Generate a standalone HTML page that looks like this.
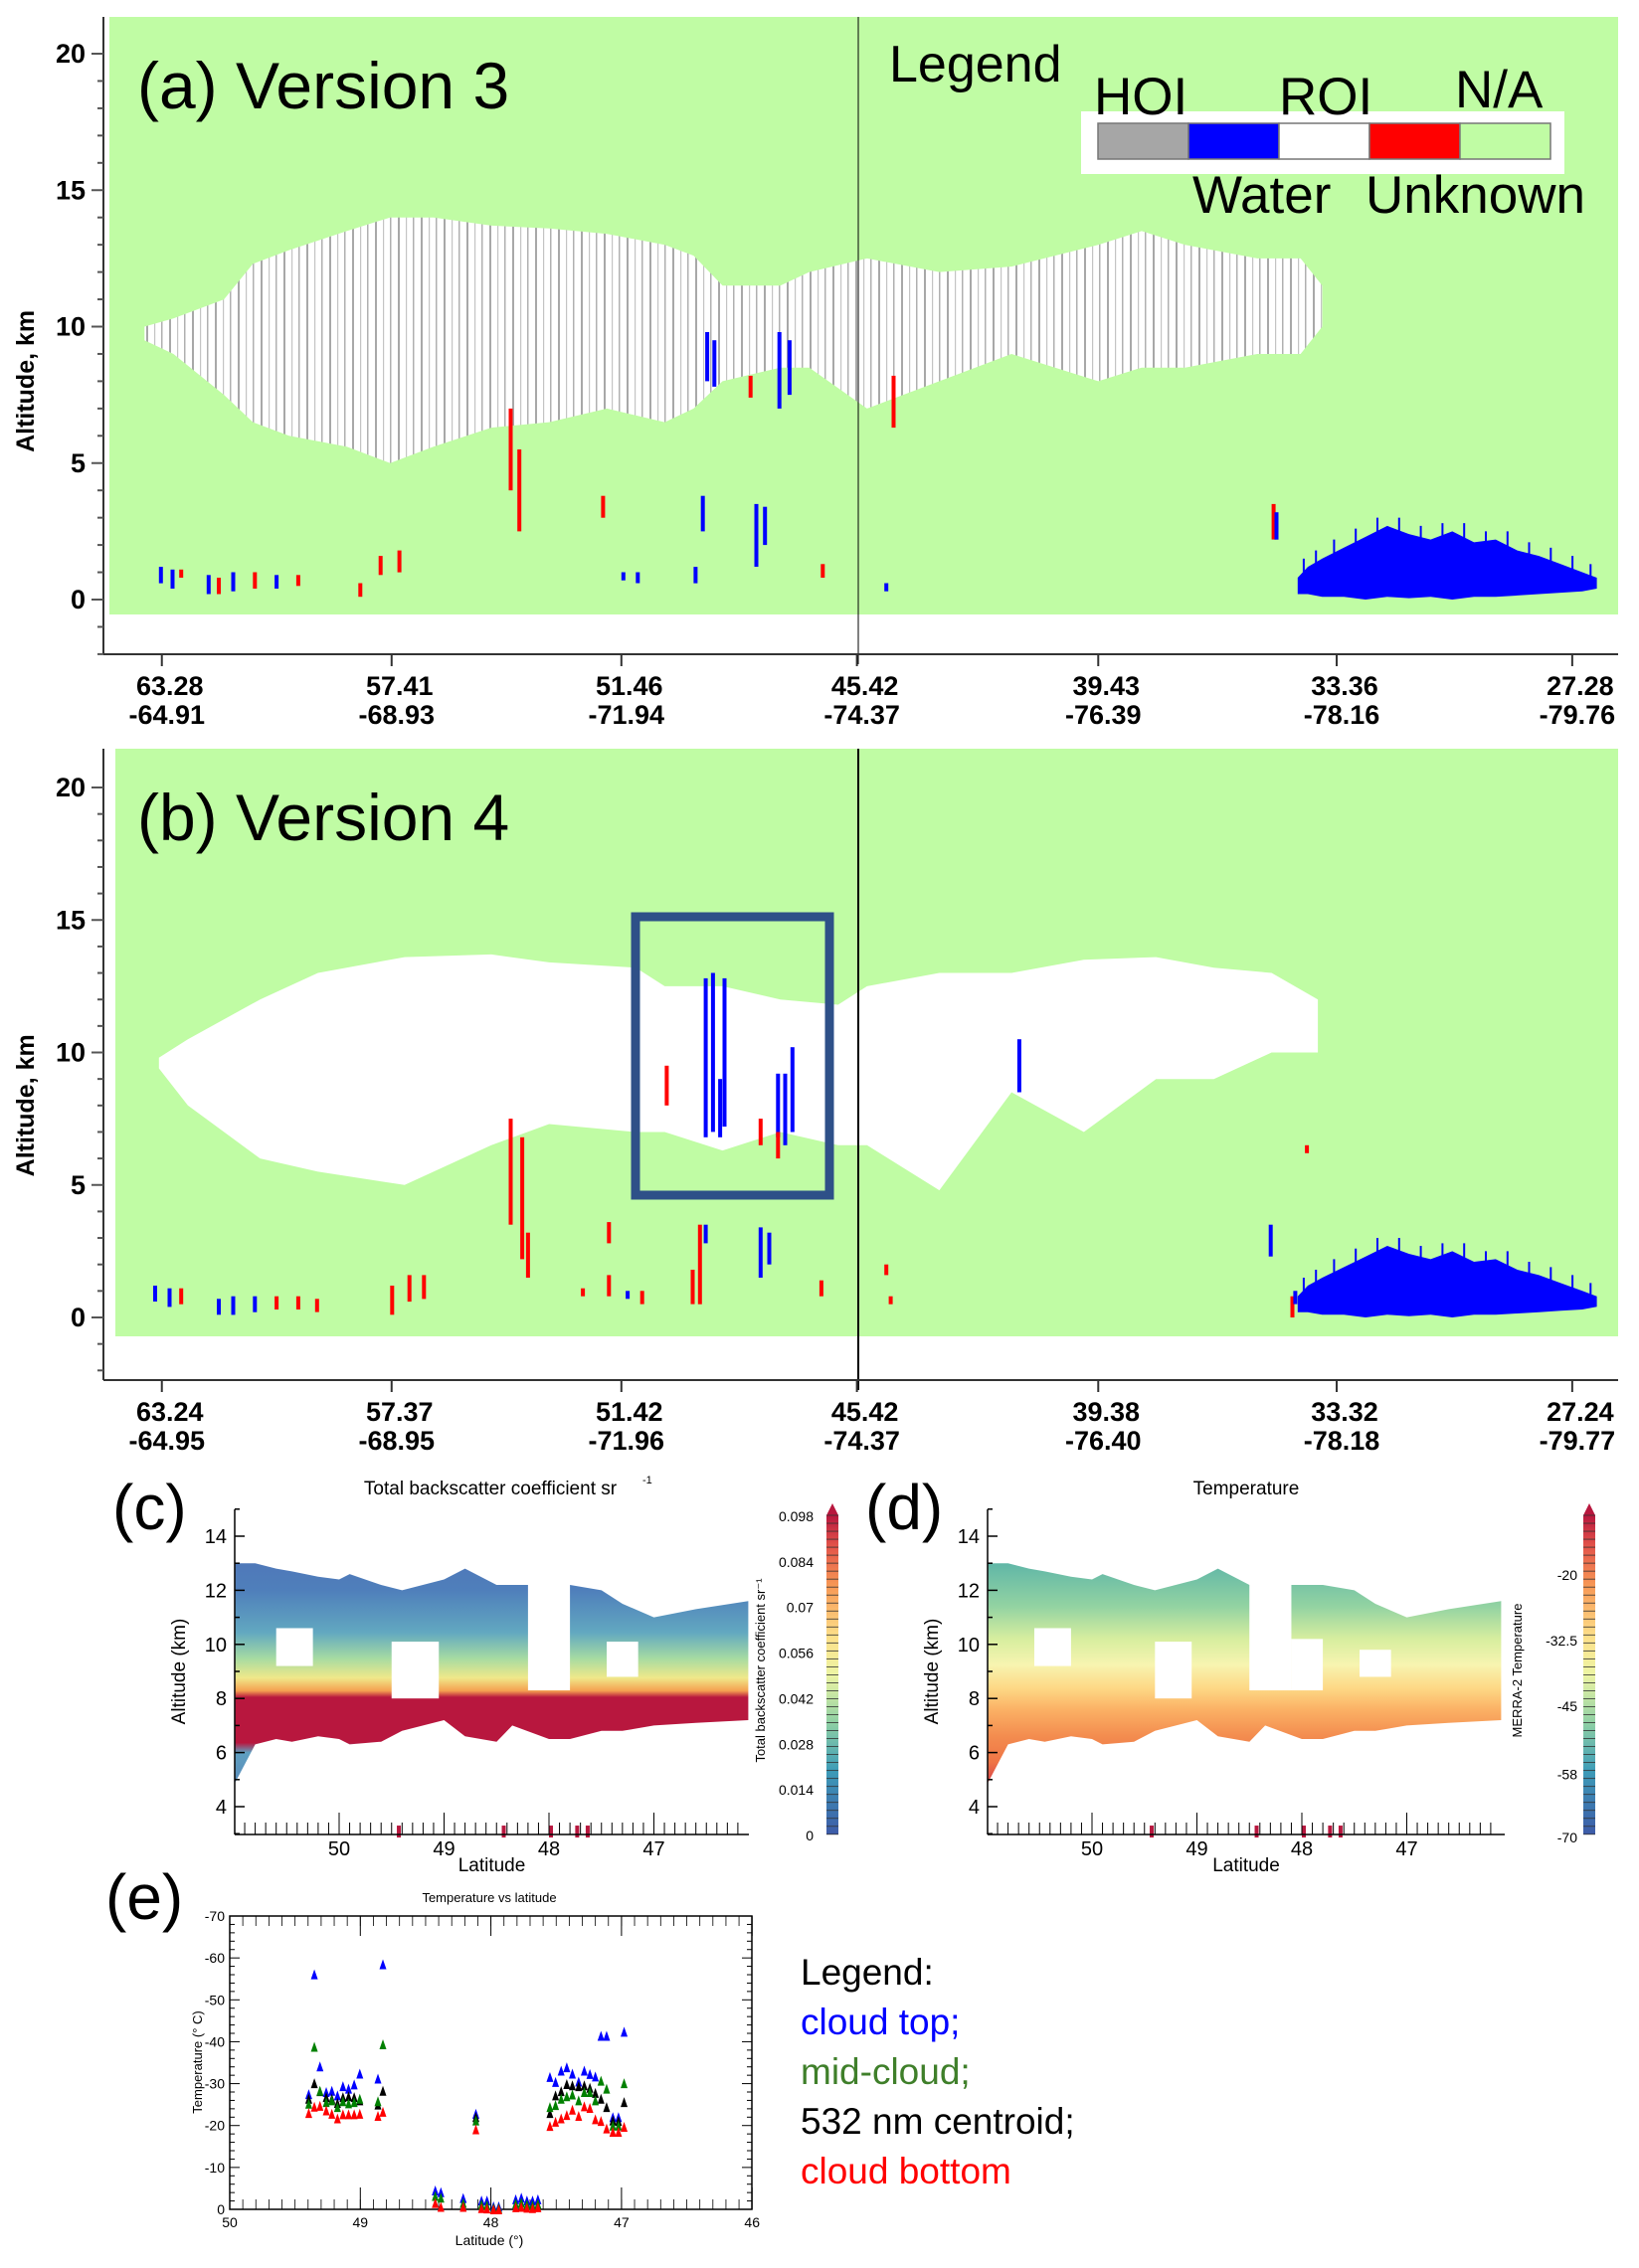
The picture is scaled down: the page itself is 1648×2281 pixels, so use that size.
<!DOCTYPE html>
<html><head><meta charset="utf-8"><style>
html,body{margin:0;padding:0;background:#fff;}
svg{display:block;font-family:"Liberation Sans",sans-serif;}
</style></head><body>
<svg id="fig" width="1648" height="2281" viewBox="0 0 1648 2281" xmlns="http://www.w3.org/2000/svg">
<defs>
<pattern id="hoi" patternUnits="userSpaceOnUse" width="23" height="10">
<rect width="23" height="10" fill="#fff"/>
<rect x="1" width="1.5" height="10" fill="#b0b0b0"/>
<rect x="9" width="2" height="10" fill="#a8a8a8"/>
<rect x="17" width="1.2" height="10" fill="#c4c4c4"/>
</pattern>
<linearGradient id="gc" x1="0" y1="1518" x2="0" y2="1844" gradientUnits="userSpaceOnUse">
<stop offset="0.05" stop-color="#4f6fb6"/><stop offset="0.25" stop-color="#4f7fbb"/>
<stop offset="0.38" stop-color="#62a8c0"/><stop offset="0.46" stop-color="#a6dba2"/>
<stop offset="0.52" stop-color="#f0e88a"/><stop offset="0.56" stop-color="#f4a050"/>
<stop offset="0.58" stop-color="#b8173e"/><stop offset="0.72" stop-color="#b8173e"/>
<stop offset="0.75" stop-color="#5f9fc0"/><stop offset="1" stop-color="#4f6fb6"/>
</linearGradient>
<linearGradient id="gd" x1="0" y1="1518" x2="0" y2="1844" gradientUnits="userSpaceOnUse">
<stop offset="0.15" stop-color="#5ab3a8"/><stop offset="0.3" stop-color="#93d3a2"/>
<stop offset="0.4" stop-color="#d7ee9f"/><stop offset="0.48" stop-color="#f7f4b0"/>
<stop offset="0.55" stop-color="#fdd986"/><stop offset="0.62" stop-color="#fbb064"/>
<stop offset="0.7" stop-color="#f38c4f"/><stop offset="0.78" stop-color="#ef7546"/>
<stop offset="0.85" stop-color="#d43d4b"/>
</linearGradient>
<linearGradient id="gbar" x1="0" y1="1" x2="0" y2="0">
<stop offset="0" stop-color="#3d5aa8"/><stop offset="0.2" stop-color="#3d9cb8"/>
<stop offset="0.35" stop-color="#8fd0a4"/><stop offset="0.5" stop-color="#edf5a4"/>
<stop offset="0.62" stop-color="#fde08a"/><stop offset="0.78" stop-color="#f79855"/>
<stop offset="0.9" stop-color="#e4564a"/><stop offset="1" stop-color="#b8173e"/>
</linearGradient>
</defs>
<g id="root"></g>
</svg>
<script>
const cloudA_u   = [100,120,155,175,200,240,270,300,340,380,420,460,480,500,540,560,600,650,700,760,790,820,870,900,915];
const cloudA_top = [10,10.3,11,12.3,12.8,13.5,14,14,13.7,13.6,13.4,13,12.6,11.5,11.5,12,12.5,12,12.2,13,13.5,13,12.5,12.5,11.5];
const cloudA_bot = [9.5,9,7.5,6.5,6,5.6,5,5.6,6.3,6.5,7,6.5,7,8,8.5,8.5,7,8,9,8,8.5,8.5,9,9,10];
const cloudB_u   = [110,130,180,220,280,340,380,440,460,500,540,580,600,650,700,750,800,840,880,912];
const cloudB_top = [9.8,10.5,12,13,13.6,13.7,13.4,13.2,12.5,12.5,12,11.8,12.5,13,13,13.5,13.6,13.2,13,12];
const cloudB_bot = [9.4,8,6,5.5,5,6.5,7.3,7,7,6.3,7,6.5,6.5,4.8,8.5,7,9,9,10,10];
const blobU   = [898,905,915,930,945,960,975,990,1005,1020,1035,1050,1065,1080,1095,1105];
const blobTop = [0.8,1.2,1.5,1.9,2.3,2.7,2.4,2.2,2.5,2.1,2.2,1.8,1.6,1.3,1.0,0.8];
const blobBot = [0.2,0.2,0.1,0.1,0,0.1,0.05,0.1,0,0.1,0.1,0.15,0.2,0.25,0.3,0.4];
const xTicksAB_u = [112,271,430,593,760,925,1088];
const xLabA1 = ["63.28","57.41","51.46","45.42","39.43","33.36","27.28"];
const xLabA2 = ["-64.91","-68.93","-71.94","-74.37","-76.39","-78.16","-79.76"];
const xLabB1 = ["63.24","57.37","51.42","45.42","39.38","33.32","27.24"];
const xLabB2 = ["-64.95","-68.95","-71.96","-74.37","-76.40","-78.18","-79.77"];
const altTicks = [0,5,10,15,20];
const featA = [[110,0.6,1.2,"#0000ff"],[118,0.4,1.1,"#0000ff"],[124,0.8,1.1,"#ff0000"],[143,0.2,0.9,"#0000ff"],[150,0.2,0.8,"#ff0000"],[160,0.3,1.0,"#0000ff"],[175,0.4,1.0,"#ff0000"],[190,0.4,0.9,"#0000ff"],[205,0.5,0.9,"#ff0000"],[248,0.1,0.6,"#ff0000"],[262,0.9,1.6,"#ff0000"],[275,1.0,1.8,"#ff0000"],[352,4.0,7.0,"#ff0000"],[358,2.5,5.5,"#ff0000"],[416,3.0,3.8,"#ff0000"],[430,0.7,1.0,"#0000ff"],[440,0.6,1.0,"#0000ff"],[480,0.6,1.2,"#0000ff"],[485,2.5,3.8,"#0000ff"],[522,1.2,3.5,"#0000ff"],[528,2.0,3.4,"#0000ff"],[488,8.0,9.8,"#0000ff"],[493,7.8,9.5,"#0000ff"],[518,7.4,8.2,"#ff0000"],[538,7.0,9.8,"#0000ff"],[545,7.5,9.5,"#0000ff"],[568,0.8,1.3,"#ff0000"],[612,0.3,0.6,"#0000ff"],[617,6.3,8.2,"#ff0000"],[880,2.2,3.5,"#ff0000"],[882,2.2,3.2,"#0000ff"]];
const featB = [[106,0.6,1.2,"#0000ff"],[116,0.4,1.1,"#0000ff"],[124,0.5,1.1,"#ff0000"],[150,0.1,0.7,"#0000ff"],[160,0.1,0.8,"#0000ff"],[175,0.2,0.8,"#0000ff"],[190,0.3,0.8,"#ff0000"],[205,0.3,0.8,"#ff0000"],[218,0.2,0.7,"#ff0000"],[270,0.1,1.2,"#ff0000"],[282,0.6,1.6,"#ff0000"],[292,0.7,1.6,"#ff0000"],[352,3.5,7.5,"#ff0000"],[360,2.2,6.8,"#ff0000"],[364,1.5,3.2,"#ff0000"],[420,2.8,3.6,"#ff0000"],[420,0.8,1.6,"#ff0000"],[402,0.8,1.1,"#ff0000"],[433,0.7,1.0,"#0000ff"],[443,0.5,1.0,"#ff0000"],[478,0.5,1.8,"#ff0000"],[483,0.5,3.5,"#ff0000"],[487,2.8,3.5,"#0000ff"],[525,1.5,3.4,"#0000ff"],[531,2.0,3.2,"#0000ff"],[567,0.8,1.4,"#ff0000"],[612,1.6,2.0,"#ff0000"],[615,0.5,0.8,"#ff0000"],[487,6.8,12.8,"#0000ff"],[492,7.0,13.0,"#0000ff"],[497,6.8,9.0,"#0000ff"],[500,7.2,12.8,"#0000ff"],[537,6.8,9.2,"#0000ff"],[542,6.5,9.2,"#0000ff"],[547,7.0,10.2,"#0000ff"],[525,6.5,7.5,"#ff0000"],[537,6.0,7.0,"#ff0000"],[460,8.0,9.5,"#ff0000"],[704,8.5,10.5,"#0000ff"],[878,2.3,3.5,"#0000ff"],[903,6.2,6.5,"#ff0000"],[893,0.0,0.8,"#ff0000"],[895,0.5,1.0,"#0000ff"]];

const cdAltTicks = [4,6,8,10,12,14];
const cdLatTicks = [50,49,48,47];
const cBarLabels = ["0","0.014","0.028","0.042","0.056","0.07","0.084","0.098"];
const dBarValues = [-70,-58,-45,-32.5,-20];
const cloudC_lat = [50.99,50.8,50.6,50.45,50.2,50.0,49.9,49.6,49.4,49.0,48.8,48.5,48.35,48.0,47.8,47.5,47.3,47.0,46.6,46.1];
const cloudC_top = [13.0,13.0,12.8,12.7,12.5,12.4,12.6,12.2,12.0,12.4,12.8,12.2,12.2,12.2,12.2,12.0,11.5,11.0,11.3,11.6];
const cloudC_bot = [4.9,6.3,6.5,6.4,6.6,6.5,6.3,6.4,6.8,7.2,6.6,6.4,7.0,6.5,6.5,6.8,6.8,7.0,7.1,7.2];
const holesC = [[50.6,50.25,10.6,9.2],[49.5,49.05,10.1,8.0],[48.2,47.8,12.3,8.3],[47.45,47.15,10.1,8.8]];

const latE = [49.395,49.352,49.309,49.261,49.218,49.175,49.133,49.09,49.047,49.004,48.865,48.827,48.115,47.548,47.505,47.462,47.419,47.376,47.328,47.285,47.242,47.2,47.157,47.114,47.066,47.023,46.98];
const topE = [-27.5,-56.1,-34.1,-28.0,-28.3,-27.2,-29.4,-28.8,-29.8,-32.4,-31.2,-58.5,-22.8,-31.6,-30.4,-33.1,-33.9,-32.4,-30.5,-33.1,-32.3,-31.7,-41.4,-41.4,-22.0,-22.0,-42.4];
const midE = [-25.2,-38.8,-28.3,-25.6,-26.0,-24.4,-25.8,-25.3,-25.6,-26.4,-25.8,-39.4,-21.2,-24.4,-24.9,-26.4,-27.0,-27.4,-26.0,-28.0,-28.0,-26.0,-30.7,-28.8,-20.0,-20.0,-30.1];
const cenE = [-26.4,-30.1,-28.2,-26.8,-26.4,-25.4,-26.8,-27.0,-26.8,-26.0,-25.0,-28.3,-22.0,-23.0,-27.2,-28.2,-29.9,-29.6,-29.4,-29.6,-29.0,-27.8,-26.4,-24.4,-21.2,-21.1,-25.6];
const botE = [-23.0,-24.5,-24.7,-23.6,-22.8,-21.7,-22.7,-22.7,-22.7,-22.8,-22.3,-23.3,-19.1,-19.9,-20.9,-21.7,-22.5,-23.8,-22.3,-24.6,-24.2,-21.5,-21.1,-19.3,-18.5,-18.5,-19.7];
const latLow = [48.426,48.383,48.212,48.072,48.03,47.98,47.94,47.81,47.767,47.724,47.681,47.64];
const topLow = [-4.5,-4.1,-2.7,-2.1,-2.1,-0.7,-0.7,-2.4,-2.8,-2.1,-2.1,-2.4];
const midLow = [-3.2,-2.8,-1.5,-1.2,-1.0,-0.3,-0.3,-1.4,-1.6,-1.2,-1.0,-1.3];
const botLow = [-1.5,-0.6,-0.6,-0.3,-0.2,0,0,-0.5,-0.6,-0.4,-0.3,-0.5];
const eTempTicks = [0,-10,-20,-30,-40,-50,-60,-70];
const eLatTicks = [50,49,48,47,46];

const NS = "http://www.w3.org/2000/svg";
const root = document.getElementById("root");
function mk(tag, attrs, parent, text){
  const e = document.createElementNS(NS, tag);
  for (const k in attrs) e.setAttribute(k, attrs[k]);
  if (text !== undefined) e.textContent = text;
  (parent || root).appendChild(e);
  return e;
}
function grp(name, parent){
  const g = mk("g", {}, parent);
  
  
  return g;
}
const xAB = u => u * 1.453;
const yA = a => 603 - a * 27.45;
const yB = a => 1325 - a * 26.65;

function cloudPoly(g, us, tops, bots, yf, fill){
  let pts = [];
  us.forEach((u,i)=>pts.push(xAB(u).toFixed(1)+","+yf(tops[i]).toFixed(1)));
  for (let i=us.length-1;i>=0;i--) pts.push(xAB(us[i]).toFixed(1)+","+yf(bots[i]).toFixed(1));
  const p = mk("polygon",{points:pts.join(" "),fill:fill},g);
  
  
  return p;
}
function blob(g, yf){
  let pts = [];
  blobU.forEach((u,i)=>pts.push(xAB(u).toFixed(1)+","+yf(blobTop[i]).toFixed(1)));
  for (let i=blobU.length-1;i>=0;i--) pts.push(xAB(blobU[i]).toFixed(1)+","+yf(blobBot[i]).toFixed(1));
  const p = mk("polygon",{points:pts.join(" "),fill:"#0000ff"},g);
  
  
  for (let i=0;i<blobU.length-1;i++){
    const x0 = xAB(blobU[i]), x1 = xAB(blobU[i+1]);
    const t = Math.max(blobTop[i], blobTop[i+1]);
    const s = mk("rect",{x:((x0+x1)/2).toFixed(1),y:yf(t+0.3),width:2,height:((yf(0.3)-yf(t+0.3))/2).toFixed(1),fill:"#0000ff"},g);
    
    
  }
}
function feats(g, list, yf){
  list.forEach(f=>{
    const r = mk("rect",{x:xAB(f[0]).toFixed(1),y:yf(f[2]).toFixed(1),width:4,height:(yf(f[1])-yf(f[2])).toFixed(1),fill:f[3]},g);
    
    
  });
}
function panelAB(name, yf, greenTop, greenBot, axisY, cloudU, cTop, cBot, fillC, featList, lab1, lab2, title, greenLeft){
  const g = grp(name);
  mk("rect",{x:greenLeft,y:greenTop,width:1627-greenLeft,height:greenBot-greenTop,fill:"#c0fca4"},g);
  cloudPoly(g, cloudU, cTop, cBot, yf, fillC);
  blob(g, yf);
  feats(g, featList, yf);
  mk("line",{x1:863,y1:greenTop,x2:863,y2:axisY+10,stroke:"#000","stroke-width":name==="panel-b"?2:1},g);
  const ya = grp("y-axis", g);
  mk("line",{x1:104,y1:greenTop,x2:104,y2:axisY,stroke:"#333","stroke-width":2},ya);
  for (let a=-2;a<=20;a++){
    const y = yf(a);
    mk("line",{x1:a%5===0?92:98,y1:y,x2:104,y2:y,stroke:"#555","stroke-width":2},ya);
  }
  altTicks.forEach(a=>{
    const t = mk("text",{x:86,y:yf(a)+9,"text-anchor":"end","font-size":27,"font-weight":"bold",fill:"#000"},ya,String(a));
    
    
  });
  const yt = mk("text",{x:0,y:0,"font-size":25,"font-weight":"bold",transform:`translate(34,${yf(8)}) rotate(-90)`,"text-anchor":"middle"},ya,"Altitude, km");
  
  
  const xa = grp("x-axis", g);
  mk("line",{x1:104,y1:axisY,x2:1627,y2:axisY,stroke:"#333","stroke-width":2},xa);
  xTicksAB_u.forEach((u,i)=>{
    const x = xAB(u);
    mk("line",{x1:x,y1:axisY,x2:x,y2:axisY+12,stroke:"#333","stroke-width":2},xa);
    const t1 = mk("text",{x:x+8,y:axisY+41,"text-anchor":"middle","font-size":27,"font-weight":"bold"},xa,lab1[i]);
    
    
    const t2 = mk("text",{x:x+5,y:axisY+70,"text-anchor":"middle","font-size":27,"font-weight":"bold"},xa,lab2[i]);
    
    
  });
  const tt = mk("text",{x:138,y:greenTop+92,"font-size":66,fill:"#000"},g,title);
  
  
  return g;
}

const pa = panelAB("panel-a", yA, 17, 618, 658, cloudA_u, cloudA_top, cloudA_bot, "url(#hoi)", featA, xLabA1, xLabA2, "(a) Version 3", 110);
const lg = grp("phase-legend", pa);
const lgt = mk("text",{x:894,y:82,"font-size":52},lg,"Legend");


mk("rect",{x:1087,y:112,width:486,height:63,fill:"#fff"},lg);
const legCols = ["#a6a6a6","#0000ff","#ffffff","#ff0000","#c0fca4"];
legCols.forEach((c,i)=>{
  const r = mk("rect",{x:1104+i*91,y:124,width:91,height:36,fill:c,stroke:"#777","stroke-width":1.5},lg);
  
  
});
[["HOI",1100,115],["ROI",1286,115],["N/A",1463,108],["Water",1199,214],["Unknown",1373,214]].forEach(l=>{
  const t = mk("text",{x:l[1],y:l[2],"font-size":53},lg,l[0]);
  
  
});

const pb = panelAB("panel-b", yB, 753, 1344, 1388, cloudB_u, cloudB_top, cloudB_bot, "#ffffff", featB, xLabB1, xLabB2, "(b) Version 4", 116);
const hb = mk("rect",{x:639,y:922,width:195,height:280,fill:"none",stroke:"#2e5088","stroke-width":9},pb);



function panelCD(name, x0, x1, fill, label, labelX, title, titleX, barX, barTitle, holes){
  const g = grp(name);
  const xL = lat => x0 + (50 - lat) * 105.5 + 105;
  const yK = a => 1545 + (14 - a) * 27.2;
  const pl = mk("text",{x:labelX,y:1538,"font-size":64},g,label);
  
  
  const ct = mk("text",{x:titleX,y:1503,"font-size":19,"text-anchor":"middle"},g,title);
  
  
  let pts=[];
  cloudC_lat.forEach((l,i)=>pts.push(xL(l).toFixed(1)+","+yK(cloudC_top[i]).toFixed(1)));
  for(let i=cloudC_lat.length-1;i>=0;i--) pts.push(xL(cloudC_lat[i]).toFixed(1)+","+yK(cloudC_bot[i]).toFixed(1));
  const cp = mk("polygon",{points:pts.join(" "),fill:fill},g);
  
  
  holes.forEach(h=>{
    const r = mk("rect",{x:xL(h[0]),y:yK(h[2]),width:xL(h[1])-xL(h[0]),height:yK(h[3])-yK(h[2]),fill:"#fff"},g);
    
    
  });
  [49.45,48.45,48.0,47.75,47.65].forEach(l=>{
    mk("rect",{x:xL(l),y:yK(3.3),width:4,height:12,fill:"#b8173e"},g);
  });
  mk("line",{x1:x0,y1:1518,x2:x0,y2:1845,stroke:"#000","stroke-width":1.5},g);
  mk("line",{x1:x0,y1:1845,x2:x1,y2:1845,stroke:"#000","stroke-width":1.5},g);
  for(let a=3;a<=15;a++){
    mk("line",{x1:x0,y1:yK(a),x2:x0+(a%2===0?10:5),y2:yK(a),stroke:"#000","stroke-width":1.5},g);
  }
  cdAltTicks.forEach(a=>{
    const t = mk("text",{x:x0-8,y:yK(a)+7,"font-size":20,"text-anchor":"end"},g,String(a));
    
    
  });
  for(let l=51;l>=46;l-=0.1){
    const x = xL(l); if(x<x0+4||x>x1-4) continue;
    mk("line",{x1:x,y1:1845,x2:x,y2:1833,stroke:"#000","stroke-width":1},g);
  }
  cdLatTicks.forEach(l=>{
    mk("line",{x1:xL(l),y1:1845,x2:xL(l),y2:1823,stroke:"#000","stroke-width":1},g);
    const t = mk("text",{x:xL(l),y:1866,"font-size":20,"text-anchor":"middle"},g,String(l));
    
    
  });
  const xt = mk("text",{x:(x0+x1)/2,y:1882,"font-size":19,"text-anchor":"middle"},g,"Latitude");
  
  
  const yt = mk("text",{x:0,y:0,"font-size":19,"text-anchor":"middle",transform:`translate(${x0-50},${yK(9)}) rotate(-90)`},g,"Altitude (km)");
  
  
  const cb = grp("colorbar", g);
  mk("rect",{x:barX,y:1524,width:12,height:321,fill:"url(#gbar)"},cb);
  mk("polygon",{points:`${barX},1524 ${barX+12},1524 ${barX+6},1512`,fill:"#b8173e"},cb);
  for(let i=0;i<=40;i++){
    mk("line",{x1:barX,y1:1524+i*8.02,x2:barX+12,y2:1524+i*8.02,stroke:"#333","stroke-width":0.8},cb);
  }
  const bt = mk("text",{x:0,y:0,"font-size":13,"text-anchor":"middle",transform:`translate(${barX-62},1680) rotate(-90)`},cb,barTitle);
  
  
  return {g,cb};
}
const pc = panelCD("panel-c",236,753,"url(#gc)","(c)",113,"Total backscatter coefficient sr",493,831,"Total backscatter coefficient sr⁻¹",holesC);
mk("text",{x:646,y:1492,"font-size":11},pc.g,"-1");
cBarLabels.forEach((l,i)=>{
  const t = mk("text",{x:818,y:1845-i*(321/7)+6,"font-size":14,"text-anchor":"end"},pc.cb,l);
  
  
});
const holesD = [[50.55,50.2,10.6,9.2],[49.4,49.05,10.1,8.0],[48.5,48.1,12.3,8.3],[48.1,47.8,10.2,8.3],[47.45,47.15,9.8,8.8]];
const pd = panelCD("panel-d",993,1513,"url(#gd)","(d)",870,"Temperature",1253,1592,"MERRA-2 Temperature",holesD);
const dY = v => 1847 - (v + 70) / 50 * 264;
dBarValues.forEach(v=>{
  const t = mk("text",{x:1586,y:dY(v)+6,"font-size":14,"text-anchor":"end"},pd.cb,String(v));
  
  
});

const pe = grp("panel-e");
const xE = lat => 231 + (50 - lat) * 131.3;
const yE = t => 2222 + t * 4.214;
const el = mk("text",{x:106,y:1930,"font-size":64},pe,"(e)");


const et = mk("text",{x:492,y:1913,"font-size":13,"text-anchor":"middle"},pe,"Temperature vs latitude");


mk("rect",{x:231,y:1927,width:525,height:295,fill:"none",stroke:"#000","stroke-width":1.5},pe);
for(let t=0;t>=-70;t-=2){
  const y = yE(t), L = t%10===0?10:5;
  mk("line",{x1:231,y1:y,x2:231+L,y2:y,stroke:"#000","stroke-width":1},pe);
  mk("line",{x1:756,y1:y,x2:756-L,y2:y,stroke:"#000","stroke-width":1},pe);
}
for(let l=50;l>=46;l-=0.1){
  const x = xE(l);
  mk("line",{x1:x,y1:2222,x2:x,y2:2212,stroke:"#000","stroke-width":0.8},pe);
  mk("line",{x1:x,y1:1927,x2:x,y2:1937,stroke:"#000","stroke-width":0.8},pe);
}
eLatTicks.forEach(l=>{
  mk("line",{x1:xE(l),y1:2222,x2:xE(l),y2:2200,stroke:"#000","stroke-width":1},pe);
  mk("line",{x1:xE(l),y1:1927,x2:xE(l),y2:1947,stroke:"#000","stroke-width":1},pe);
  const t = mk("text",{x:xE(l),y:2240,"font-size":14,"text-anchor":"middle"},pe,String(l));
  
  
});
eTempTicks.forEach(v=>{
  const t = mk("text",{x:226,y:yE(v)+5,"font-size":14,"text-anchor":"end"},pe,String(v));
  
  
});
const ex = mk("text",{x:492,y:2258,"font-size":14,"text-anchor":"middle"},pe,"Latitude (°)");


const ey = mk("text",{x:0,y:0,"font-size":13,"text-anchor":"middle",transform:"translate(203,2074) rotate(-90)"},pe,"Temperature (° C)");


function tris(lats, vals, color, name){
  const g = grp(name, pe);
  lats.forEach((l,i)=>{
    const x = xE(l), y = yE(vals[i]);
    const p = mk("polygon",{points:`${x-3.5},${y+5} ${x+3.5},${y+5} ${x},${y-5}`,fill:color},g);
    
    
  });
}
tris(latE, topE, "#0000ff", "series-cloud-top");
tris(latE, cenE, "#000000", "series-centroid");
tris(latE, midE, "#008000", "series-mid-cloud");
tris(latE, botE, "#ff0000", "series-cloud-bottom");
tris(latLow, topLow, "#0000ff", "series-cloud-top-low");
tris(latLow, midLow, "#008000", "series-mid-cloud-low");
tris(latLow, botLow, "#ff0000", "series-cloud-bottom-low");
const le = grp("legend-e");
[["Legend:","#000",1996],["cloud top;","#0000ff",2046],["mid-cloud;","#3f7f2a",2096],["532 nm centroid;","#000",2146],["cloud bottom","#ff0000",2196]].forEach(r=>{
  const t = mk("text",{x:805,y:r[2],"font-size":37,fill:r[1]},le,r[0]);
  
  
});
</script>
</body></html>
